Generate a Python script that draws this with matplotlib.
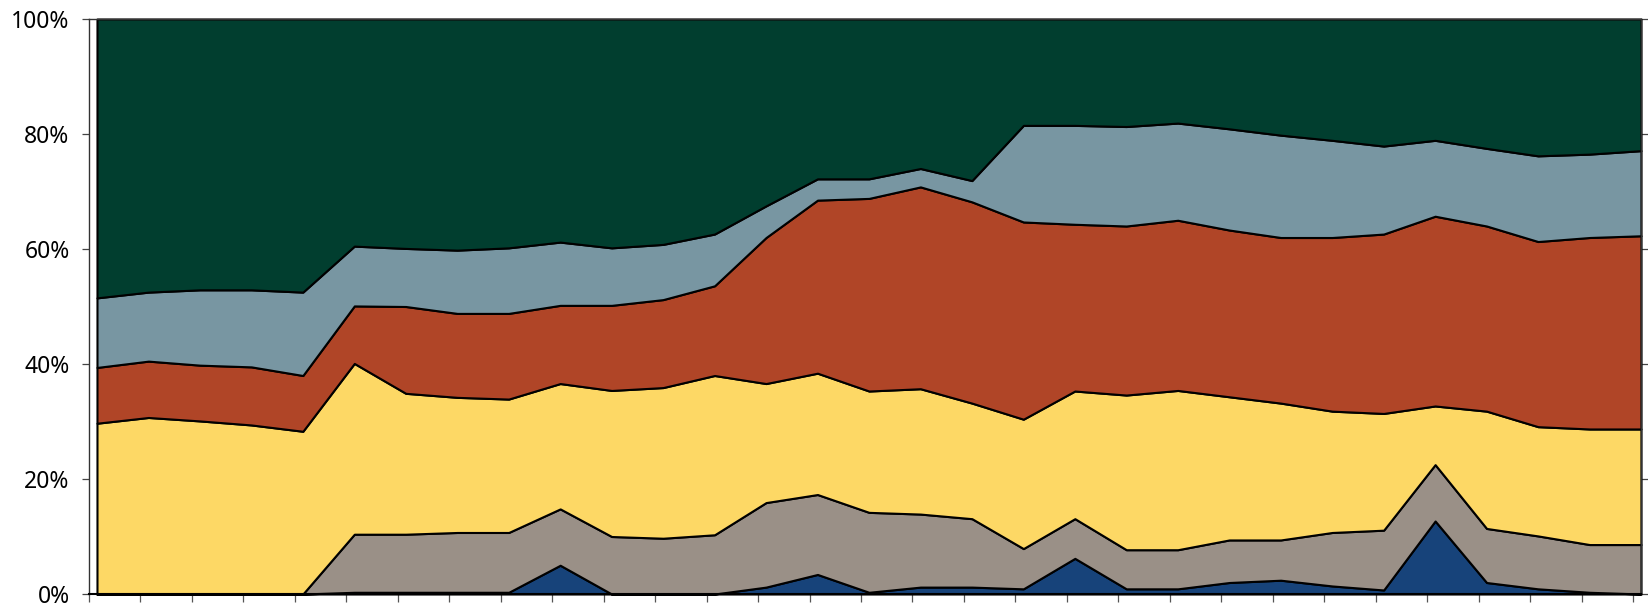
import numpy as np
import matplotlib
matplotlib.use("Agg")
import matplotlib.pyplot as plt

plt.rcParams['font.family'] = ['Noto Sans', 'DejaVu Sans']

# Period index (31 periods) and the share of each component, in percent
periods = np.arange(31)

navy = [0, 0, 0, 0, 0, 0.3, 0.3, 0.3, 0.3, 5.0, 0, 0, 0, 1.2, 3.4, 0.3,
        1.2, 1.2, 0.9, 6.2, 0.9, 0.9, 2.0, 2.4, 1.4, 0.7, 12.7, 2.0, 0.9, 0.3, 0]
taupe = [0, 0, 0, 0, 0, 10.1, 10.1, 10.4, 10.4, 9.8, 10.0, 9.7, 10.3, 14.7, 13.9, 13.9,
         12.7, 11.9, 7.0, 6.9, 6.8, 6.8, 7.4, 7.0, 9.3, 10.4, 9.8, 9.4, 9.2, 8.3, 8.6]
yellow = [29.7, 30.7, 30.1, 29.4, 28.3, 29.7, 24.5, 23.5, 23.2, 21.8, 25.4, 26.2, 27.7, 20.7, 21.1, 21.1,
          21.8, 20.1, 22.5, 22.2, 26.9, 27.7, 24.9, 23.8, 21.1, 20.3, 10.2, 20.4, 19.0, 20.1, 20.1]
rust = [9.7, 9.8, 9.7, 10.1, 9.7, 10.0, 15.1, 14.6, 14.9, 13.6, 14.8, 15.3, 15.6, 25.4, 30.1, 33.5,
        35.1, 35.0, 34.3, 29.0, 29.4, 29.6, 29.0, 28.8, 30.2, 31.2, 33.0, 32.2, 32.2, 33.3, 33.6]
slate = [12.1, 12.0, 13.1, 13.4, 14.5, 10.4, 10.1, 11.0, 11.4, 11.0, 10.0, 9.6, 9.0, 5.5, 3.7, 3.4,
         3.2, 3.7, 16.8, 17.2, 17.3, 16.9, 17.6, 17.8, 16.9, 15.3, 13.2, 13.5, 14.9, 14.5, 14.8]
green = [48.5, 47.5, 47.1, 47.1, 47.5, 39.5, 39.9, 40.2, 39.8, 38.8, 39.8, 39.2, 37.4, 32.5, 27.8, 27.8,
         26.0, 28.1, 18.5, 18.5, 18.7, 18.1, 19.1, 20.2, 21.1, 22.1, 21.1, 22.5, 23.8, 23.5, 22.9]

series = np.array([navy, taupe, yellow, rust, slate, green], dtype=float)
shares = series / series.sum(axis=0)

colors = ['#17437A', '#9A9087', '#FDD865', '#B04527', '#7896A2', '#013E2F']

y_ticks = [0, 0.2, 0.4, 0.6, 0.8, 1.0]
y_labels = ['0%', '20%', '40%', '60%', '80%', '100%']

fig = plt.figure(figsize=(16.48, 6.07), dpi=100)
ax = fig.add_axes([89 / 1648, 13 / 607, 1552 / 1648, 575 / 607])

polys = ax.stackplot(periods, *shares, colors=colors,
                     edgecolor='black', linewidth=1.5)
for p in polys:
    p.set_clip_on(False)
    p.set_zorder(2)

# category ticks sit slightly left of the data points
tick_shift = 0.155
ax.set_xlim(-tick_shift, periods[-1])
ax.set_ylim(0, 1)
ax.set_xticks(periods - tick_shift)
ax.set_xticklabels([])
ax.set_yticks(y_ticks)
ax.set_yticklabels(y_labels, fontsize=16.5)

ax.tick_params(axis='x', direction='out', length=6, width=0.9, color='#555555')
ax.tick_params(axis='y', direction='out', length=5, width=0.9, color='#444444',
               left=True, right=True, labelright=False, pad=9)

for side in ['left', 'right', 'top', 'bottom']:
    ax.spines[side].set_color('#333333')
    ax.spines[side].set_linewidth(1.0)
ax.spines['bottom'].set_color('black')
ax.spines['bottom'].set_linewidth(1.5)

fig.savefig('out.png', dpi=100)
